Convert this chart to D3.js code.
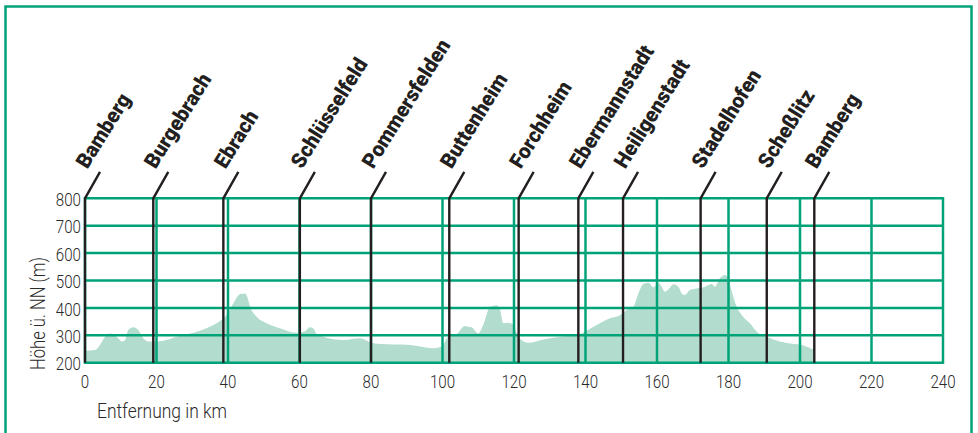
<!DOCTYPE html>
<html><head><meta charset="utf-8">
<script src="https://cdn.jsdelivr.net/npm/d3@7"></script>
<style>
html,body{margin:0;padding:0;background:#fff;}
svg{display:block;}
.tick{font-family:Roboto,"DejaVu Sans Condensed",sans-serif;font-weight:300;font-size:18px;fill:#2a2a2a;}
.place{font-family:Roboto,"DejaVu Sans Condensed",sans-serif;font-weight:900;font-size:21px;fill:#231f20;}
.title{font-family:Roboto,"DejaVu Sans Condensed",sans-serif;font-weight:300;font-size:20px;fill:#2a2a2a;}
</style></head><body>
<svg id="c" width="978" height="433"></svg>
<script>
// distance (km) of profile points
const profileKm = [0,2.8,4.2,5.6,7,7.9,9.3,10.3,11.2,12.1,13.5,14.9,16.3,17.7,20,21.9,25.6,30.3,34,36.8,39.6,41.5,43.4,44.8,45.4,46.2,48,50.8,54.5,59.2,61.5,62.9,63.8,64.8,66.7,72.3,77,79.7,82.5,90.9,97.4,99.8,101.6,104,106.3,107.2,108.1,110,111.4,113.3,115.1,116,117,118.4,119.8,121.2,124,128.2,132.9,138.5,142.2,146.9,149.7,151.5,153.4,154.8,156.2,157.6,159,160.4,161.3,162.2,163.1,164.6,166,166.9,167.8,169.2,171.1,173,174.4,175.3,176.2,177.6,179,179.9,180.8,182.3,184.1,186,187.9,190.7,194.4,198.2,200.5,202.3,203.7,204];
// elevation (m) of profile points
const profileElev = [243,246,265,295,307,305,289,277,283,319,329,319,289,277,277,280,295,309,326,344,374,417,451,453,440,404,368,344,326,309,314,329,326,305,295,283,289,275,268,265,253,259,295,305,334,331,329,307,338,404,410,398,344,346,338,295,273,285,295,305,331,362,374,392,404,453,487,492,475,492,477,459,466,486,477,453,447,465,471,475,484,487,477,508,520,512,465,404,368,344,313,295,277,268,265,256,249,249];
// towns along the route
const townNames = ["Bamberg","Burgebrach","Ebrach","Schlüsselfeld","Pommersfelden","Buttenheim","Forchheim","Ebermannstadt","Heiligenstadt","Stadelhofen","Scheßlitz","Bamberg"];
const townKm = [0,19.1,38.7,60.1,80,101.9,121.3,138,150.5,172.2,190.7,204];
// axis ticks
const xTicks = [0,20,40,60,80,100,120,140,160,180,200,220,240];
const yTicks = [200,300,400,500,600,700,800];

const svg = d3.select("#c");
const x = d3.scaleLinear().domain([0,240]).range([85,943]);
const y = d3.scaleLinear().domain([200,800]).range([362.7,198.3]);
const green = "#00a378";

// frame
svg.append("rect").attr("x",5.5).attr("y",6.5).attr("width",966).attr("height",440)
  .attr("fill","none").attr("stroke",green).attr("stroke-width",2.5);

// area
const pts = profileKm.map((k,i)=>[k,profileElev[i]]);
const area = d3.area().x(d=>x(d[0])).y0(y(200)).y1(d=>y(d[1])).curve(d3.curveMonotoneX);
svg.append("path").datum(pts).attr("d",area).attr("fill","#b2ddce");

// grid
svg.append("g").selectAll("line").data(yTicks).join("line")
  .attr("x1",x(0)).attr("x2",x(240)).attr("y1",d=>y(d)).attr("y2",d=>y(d))
  .attr("stroke",green).attr("stroke-width",2.5);
svg.append("g").selectAll("line").data(xTicks).join("line")
  .attr("x1",d=>x(d)).attr("x2",d=>x(d)).attr("y1",y(200)+1.25).attr("y2",y(800)-1.25)
  .attr("stroke",green).attr("stroke-width",2.5);

// measure a reference label to derive condensed scale
const probe = svg.append("text").attr("class","place").text("Pommersfelden");
const sx = Math.min(1, 147 / probe.node().getComputedTextLength());
probe.remove();

// town markers
const tg = svg.append("g");
townKm.forEach((k,i)=>{
  const px = x(k), top = y(800);
  tg.append("path").attr("d",`M${px},${y(200)}L${px},${top}L${px+15},${top-26.5}`)
    .attr("fill","none").attr("stroke","#231f20").attr("stroke-width",2.4);
  tg.append("text").attr("class","place")
    .attr("transform",`translate(${px+15},${top-26.5}) rotate(-58) translate(-5,-12) scale(${sx},1)`)
    .text(townNames[i]);
});

// tick labels
const tsx = 0.84;
svg.append("g").selectAll("text").data(xTicks).join("text").attr("class","tick")
  .attr("transform",d=>`translate(${x(d)},387.5) scale(${tsx},1)`).attr("text-anchor","middle").text(d=>d);
svg.append("g").selectAll("text").data(yTicks).join("text").attr("class","tick")
  .attr("transform",d=>`translate(81,${y(d)+3}) scale(${tsx},1)`)
  .attr("dominant-baseline","middle").attr("text-anchor","end").text(d=>d);

// axis titles
svg.append("text").attr("class","title").attr("x",97).attr("y",418)
  .attr("textLength",130).attr("lengthAdjust","spacingAndGlyphs").text("Entfernung in km");
svg.append("text").attr("class","title").attr("transform","translate(45,370) rotate(-90)")
  .attr("textLength",113).attr("lengthAdjust","spacingAndGlyphs").text("Höhe ü. NN (m)");
</script>
</body></html>
